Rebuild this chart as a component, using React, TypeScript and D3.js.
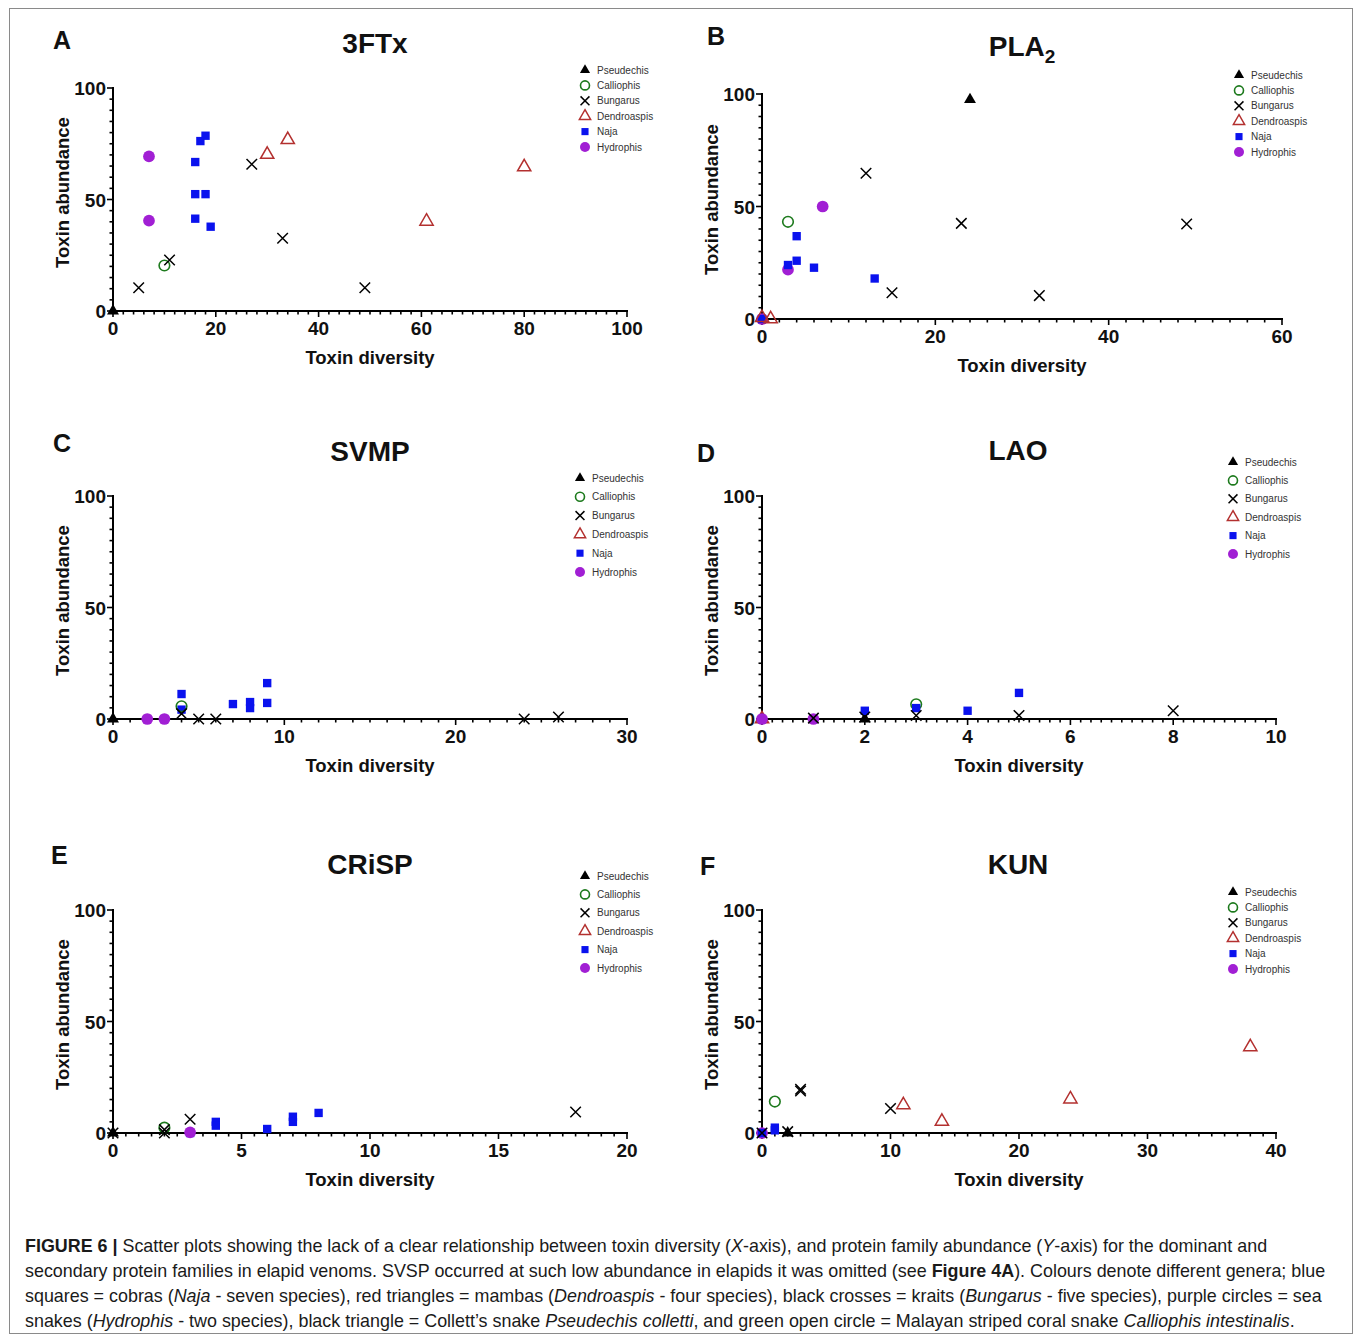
import * as d3 from 'd3';

// genera, in legend order
const genera = ['Pseudechis', 'Calliophis', 'Bungarus', 'Dendroaspis', 'Naja', 'Hydrophis'];

type Pt = [string, number, number]; // genus, toxin diversity, toxin abundance

const ftx: Pt[] = [
  ['Pseudechis', 0, 0],
  ['Calliophis', 10, 20.4],
  ['Bungarus', 5, 10.4], ['Bungarus', 11, 22.9], ['Bungarus', 27, 65.8], ['Bungarus', 33, 32.6], ['Bungarus', 49, 10.4],
  ['Dendroaspis', 30, 70.2], ['Dendroaspis', 34, 76.8], ['Dendroaspis', 61, 40.2], ['Dendroaspis', 80, 64.6],
  ['Naja', 16, 66.8], ['Naja', 17, 76.2], ['Naja', 18, 78.6], ['Naja', 16, 52.4], ['Naja', 18, 52.4], ['Naja', 16, 41.4], ['Naja', 19, 37.8],
  ['Hydrophis', 7, 69.3], ['Hydrophis', 7, 40.5],
];

const pla2: Pt[] = [
  ['Pseudechis', 24, 97.5],
  ['Calliophis', 3, 43.2],
  ['Bungarus', 12, 64.8], ['Bungarus', 23, 42.5], ['Bungarus', 49, 42.2], ['Bungarus', 15, 11.7], ['Bungarus', 32, 10.4],
  ['Hydrophis', 0, 0], ['Hydrophis', 7, 50], ['Hydrophis', 3, 21.9],
  ['Naja', 0, 0], ['Naja', 4, 36.8], ['Naja', 4, 25.9], ['Naja', 3, 24], ['Naja', 6, 22.8], ['Naja', 13, 18],
  ['Dendroaspis', 0, 0.6], ['Dendroaspis', 1, 0],
];

const svmp: Pt[] = [
  ['Pseudechis', 0, 0],
  ['Naja', 4, 11.2], ['Naja', 4, 4.2], ['Naja', 7, 6.7], ['Naja', 8, 7.6], ['Naja', 8, 4.9], ['Naja', 9, 16.1], ['Naja', 9, 7.2],
  ['Calliophis', 4, 5.7],
  ['Bungarus', 4, 2.4], ['Bungarus', 5, 0], ['Bungarus', 6, 0], ['Bungarus', 24, 0], ['Bungarus', 26, 0.9],
  ['Hydrophis', 2, 0], ['Hydrophis', 3, 0],
];

const lao: Pt[] = [
  ['Dendroaspis', 0, 0],
  ['Hydrophis', 0, 0], ['Hydrophis', 1, 0],
  ['Pseudechis', 2, 0],
  ['Calliophis', 3, 6.6],
  ['Naja', 2, 3.7], ['Naja', 3, 4.9], ['Naja', 4, 3.7], ['Naja', 5, 11.7],
  ['Bungarus', 1, 0.4], ['Bungarus', 2, 0.9], ['Bungarus', 3, 1.6], ['Bungarus', 5, 1.6], ['Bungarus', 8, 3.7],
];

const crisp: Pt[] = [
  ['Pseudechis', 0, 0],
  ['Calliophis', 2, 2.4],
  ['Bungarus', 0, 0], ['Bungarus', 2, 1.5], ['Bungarus', 2, 0], ['Bungarus', 3, 6.2], ['Bungarus', 18, 9.4],
  ['Naja', 3, 0], ['Naja', 4, 5.0], ['Naja', 4, 3.3], ['Naja', 6, 1.8], ['Naja', 7, 7.3], ['Naja', 7, 5.0], ['Naja', 8, 9.0],
  ['Hydrophis', 3, 0.3],
];

const kun: Pt[] = [
  ['Hydrophis', 0, 0],
  ['Naja', 0, 0], ['Naja', 1, 2.4], ['Naja', 1, 1.2],
  ['Pseudechis', 2, 0],
  ['Calliophis', 1, 14.1],
  ['Bungarus', 0, 0], ['Bungarus', 2, 0.6], ['Bungarus', 3, 19.6], ['Bungarus', 3, 18.8], ['Bungarus', 10, 11],
  ['Dendroaspis', 11, 12.6], ['Dendroaspis', 14, 5.2], ['Dendroaspis', 24, 15.2], ['Dendroaspis', 38, 38.6],
];

const yTicks = [0, 50, 100];

const panels = [
  { letter: 'A', title: '3FTx', data: ftx, xMax: 100, xStep: 20, left: 113, right: 627, bottom: 311, top: 88, lx: 53, ly: 49, tx: 375, ty: 53, legX: 585, legY: 70, legDy: 15.4 },
  { letter: 'B', title: 'PLA', sub: '2', data: pla2, xMax: 60, xStep: 20, left: 762, right: 1282, bottom: 319, top: 94, lx: 707, ly: 45, tx: 1022, ty: 56, legX: 1239, legY: 75, legDy: 15.4 },
  { letter: 'C', title: 'SVMP', data: svmp, xMax: 30, xStep: 10, left: 113, right: 627, bottom: 719, top: 496, lx: 53, ly: 452, tx: 370, ty: 461, legX: 580, legY: 478, legDy: 18.8 },
  { letter: 'D', title: 'LAO', data: lao, xMax: 10, xStep: 2, left: 762, right: 1276, bottom: 719, top: 496, lx: 697, ly: 462, tx: 1018, ty: 460, legX: 1233, legY: 462, legDy: 18.4 },
  { letter: 'E', title: 'CRiSP', data: crisp, xMax: 20, xStep: 5, left: 113, right: 627, bottom: 1133, top: 910, lx: 51, ly: 864, tx: 370, ty: 874, legX: 585, legY: 876, legDy: 18.4 },
  { letter: 'F', title: 'KUN', data: kun, xMax: 40, xStep: 10, left: 762, right: 1276, bottom: 1133, top: 910, lx: 700, ly: 875, tx: 1018, ty: 874, legX: 1233, legY: 892, legDy: 15.4 },
];

const FONT = '"Liberation Sans", Arial, Helvetica, sans-serif';

const markStyle: Record<string, { type: d3.SymbolType; size: number; fill: string; stroke: string; sw: number }> = {
  Pseudechis: { type: d3.symbolTriangle, size: 62, fill: '#000', stroke: 'none', sw: 0 },
  Calliophis: { type: d3.symbolCircle, size: 88, fill: 'none', stroke: '#1d7a1d', sw: 1.6 },
  Bungarus: { type: d3.symbolX, size: 74, fill: 'none', stroke: '#000', sw: 1.5 },
  Dendroaspis: { type: d3.symbolTriangle, size: 76, fill: 'none', stroke: '#b3302f', sw: 1.5 },
  Naja: { type: d3.symbolSquare, size: 70, fill: '#0a12ee', stroke: 'none', sw: 0 },
  Hydrophis: { type: d3.symbolCircle, size: 108, fill: '#a11fd4', stroke: 'none', sw: 0 },
};

function Mark({ g, x, y, k = 1 }: { g: string; x: number; y: number; k?: number }) {
  const s = markStyle[g];
  const d = d3.symbol().type(s.type).size(s.size * k * k)() as string;
  return <path d={d} transform={`translate(${x},${y})`} fill={s.fill} stroke={s.stroke} strokeWidth={s.sw} />;
}

function Panel({ p }: { p: (typeof panels)[number] }) {
  const x = d3.scaleLinear().domain([0, p.xMax]).range([p.left, p.right]);
  const y = d3.scaleLinear().domain([0, 100]).range([p.bottom, p.top]);
  const xMajor = d3.range(0, p.xMax + 1e-6, p.xStep);
  const xMinor = d3.range(0, p.xMax + 1e-6, p.xStep / 10);
  const yMinor = d3.range(0, 100 + 1e-6, 5);
  const midY = (p.top + p.bottom) / 2 - 7;
  const midX = (p.left + p.right) / 2;
  return (
    <g>
      <text x={p.lx} y={p.ly} fontFamily={FONT} fontWeight="bold" fontSize={25} fill="#111">{p.letter}</text>
      <text x={p.tx} y={p.ty} textAnchor="middle" fontFamily={FONT} fontWeight="bold" fontSize={28} fill="#111">
        {p.title}
        {p.sub && <tspan fontSize={19} dy={7}>{p.sub}</tspan>}
      </text>
      {/* y axis */}
      <line x1={p.left} x2={p.left} y1={y(100) - 1} y2={y(0)} stroke="#000" strokeWidth={2} />
      {yMinor.map((v) => (
        <line key={'ym' + v} x1={p.left} x2={p.left - (v % 50 === 0 ? 6 : 3.5)} y1={y(v)} y2={y(v)} stroke="#000" strokeWidth={1.6} />
      ))}
      {yTicks.map((v) => (
        <text key={'yt' + v} x={p.left - 7} y={y(v) + 7} textAnchor="end" fontFamily={FONT} fontWeight="bold" fontSize={19} fill="#111">{v}</text>
      ))}
      {/* x axis */}
      <line x1={p.left - 1} x2={p.right + 1} y1={p.bottom} y2={p.bottom} stroke="#000" strokeWidth={2} />
      {xMinor.map((v, i) => (
        <line key={'xm' + i} x1={x(v)} x2={x(v)} y1={p.bottom} y2={p.bottom + (i % 10 === 0 ? 6 : 3.5)} stroke="#000" strokeWidth={1.6} />
      ))}
      {xMajor.map((v) => (
        <text key={'xt' + v} x={x(v)} y={p.bottom + 24} textAnchor="middle" fontFamily={FONT} fontWeight="bold" fontSize={19} fill="#111">{v}</text>
      ))}
      <text x={midX} y={p.bottom + 53} textAnchor="middle" fontFamily={FONT} fontWeight="bold" fontSize={18.5} fill="#111">Toxin diversity</text>
      <text transform={`translate(${p.left - 44},${midY}) rotate(-90)`} textAnchor="middle" fontFamily={FONT} fontWeight="bold" fontSize={18.5} fill="#111">Toxin abundance</text>
      {/* points */}
      {p.data.map(([g, dx, dy], i) => (
        <Mark key={'pt' + i} g={g} x={x(dx)} y={y(dy)} />
      ))}
      {/* legend */}
      {genera.map((g, i) => (
        <g key={'lg' + g}>
          <Mark g={g} x={p.legX} y={p.legY + i * p.legDy} k={0.85} />
          <text x={p.legX + 12} y={p.legY + i * p.legDy + 3.5} fontFamily={FONT} fontSize={10} fill="#333">{g}</text>
        </g>
      ))}
    </g>
  );
}

type Run = [string, '' | 'b' | 'i'];
const caption: Run[][] = [
  [['FIGURE 6 | ', 'b'], ['Scatter plots showing the lack of a clear relationship between toxin diversity (', ''], ['X', 'i'], ['-axis), and protein family abundance (', ''], ['Y', 'i'], ['-axis) for the dominant and', '']],
  [['secondary protein families in elapid venoms. SVSP occurred at such low abundance in elapids it was omitted (see ', ''], ['Figure 4A', 'b'], ['). Colours denote different genera; blue', '']],
  [['squares = cobras (', ''], ['Naja', 'i'], [' - seven species), red triangles = mambas (', ''], ['Dendroaspis', 'i'], [' - four species), black crosses = kraits (', ''], ['Bungarus', 'i'], [' - five species), purple circles = sea', '']],
  [['snakes (', ''], ['Hydrophis', 'i'], [' - two species), black triangle = Collett\u2019s snake ', ''], ['Pseudechis colletti', 'i'], [', and green open circle = Malayan striped coral snake ', ''], ['Calliophis intestinalis', 'i'], ['.', '']],
];

export default function App() {
  return (
    <svg width={1355} height={1338} style={{ position: 'absolute', left: 0, top: 0, background: '#fff' }}>
      <rect x={0} y={0} width={1355} height={1338} fill="#fff" />
      <rect x={9.5} y={8.5} width={1343} height={1325} fill="none" stroke="#8a8a8a" strokeWidth={1} />
      {panels.map((p) => (
        <Panel key={p.letter} p={p} />
      ))}
      {caption.map((line, li) => (
        <text key={'cap' + li} x={25} y={1252 + li * 25} fontFamily={FONT} fontSize={17.9} fill="#1a1a1a">
          {line.map(([t, f], j) => (
            <tspan key={j} fontWeight={f === 'b' ? 'bold' : 'normal'} fontStyle={f === 'i' ? 'italic' : 'normal'}>{t}</tspan>
          ))}
        </text>
      ))}
    </svg>
  );
}
